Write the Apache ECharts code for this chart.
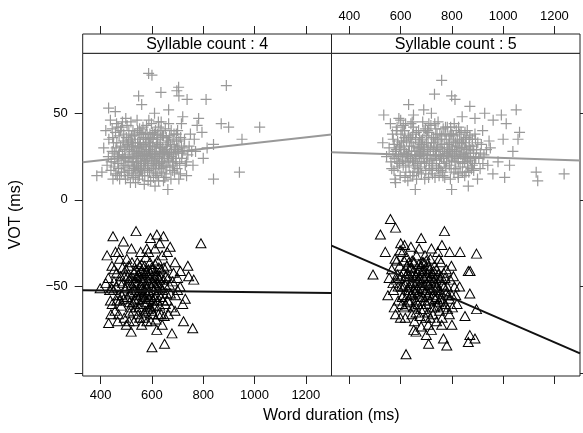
<!DOCTYPE html>
<html><head><meta charset="utf-8">
<script src="https://cdn.jsdelivr.net/npm/echarts@6/dist/echarts.min.js"></script>
<style>html,body{margin:0;padding:0;background:#fff}#c{width:583px;height:433px}</style>
</head><body><div id="c"></div>
<script>
const panelLabels = ['Syllable count : 4', 'Syllable count : 5'];
const xTitle = 'Word duration (ms)';
const yTitle = 'VOT (ms)';
const xTickValues = [400, 600, 800, 1000, 1200];
const yTickValues = [-100, -50, 0, 50];
const yLabelValues = [-50, 0, 50];
const xRange = [330, 1300];
const yRange = [-101.6, 84.6];

// Syllable count 4, positive VOT (+)
const syl4Voiceless = [
[587,73],[600,72],[704,65],[697,63],[890,66],[811,58],[737,58],[635,62],[548,60],[431,53],[457,51],[1020,42],[870,44],[899,42],[951,35],[941,16],[840,12],[840,32],[782,47],[776,43],[795,39],[662,6],[405,16],[385,14],[665,52],[705,60],[560,55],[610,50],[720,48],[750,38],[770,28],[760,20],[735,14],[800,24],[815,30],
[420,40],[432,35],[445,28],[455,22],[462,44],[470,18],[478,31],[485,26],[490,38],[497,12],
[503,20],[508,34],[512,29],[518,45],[522,15],[527,24],[531,37],[536,10],[540,27],[544,33],
[548,19],[552,41],[556,23],[560,30],[563,14],[567,36],[571,26],[575,21],[579,43],[583,17],
[587,28],[591,33],[595,11],[599,24],[603,39],[607,20],[611,30],[615,15],[619,35],[623,25],
[627,42],[631,18],[635,28],[640,22],[645,37],[650,13],[655,31],[660,26],[665,44],[670,19],
[676,29],[682,35],[688,16],[694,24],[700,40],[708,21],[715,31],[440,17],[450,33],[458,39],
[466,25],[474,12],[482,42],[488,20],[494,29],[500,36],[506,14],[514,25],[520,31],[526,40],
[532,19],[538,22],[542,46],[546,12],[550,35],[554,28],[558,17],[562,25],[566,32],[570,9],
[574,38],[578,29],[582,23],[586,35],[590,16],[594,27],[598,44],[602,31],[606,13],[610,26],
[614,40],[618,21],[622,33],[626,11],[630,27],[634,36],[638,16],[642,30],[648,24],[652,41],
[658,19],[664,34],[668,27],[674,12],[680,22],[686,38],[692,29],[698,18],[704,27],[712,36],
[430,25],[438,46],[448,12],[460,30],[472,37],[480,23],[492,16],[498,47],[510,40],[516,10],
[524,33],[534,28],[546,24],[557,39],[568,20],[580,33],[592,38],[604,22],[616,28],[628,32],
[644,19],[656,36],[672,32],[684,26],[696,34],[716,24],[725,30],[730,20],[740,26],[412,30],
[425,20],[452,19],[468,42],[496,24],[528,18],[544,40],[572,14],[588,46],[612,8],[636,45],
[441,22],[447,36],[453,27],[459,15],[463,33],[467,21],[473,28],[477,40],[481,16],[487,33],
[491,24],[495,19],[499,30],[503,43],[507,25],[511,17],[515,35],[519,22],[523,28],[527,13],
[529,31],[533,38],[537,16],[541,24],[545,30],[549,27],[551,14],[555,33],[559,21],[561,38],
[565,27],[569,18],[573,31],[577,24],[581,38],[585,20],[589,25],[593,31],[597,19],[601,27],
[605,35],[609,23],[613,18],[617,31],[621,38],[625,20],[629,24],[633,30],[637,22],[641,37],
[646,27],[651,20],[657,29],[663,23],[669,37],[675,25],[681,17],[687,31],[693,22],[699,30],
[705,34],[711,15],[719,27],[727,35],[735,22],[745,31],[755,28],[765,35],[445,41],[465,14],
[485,45],[505,32],[525,22],[545,18],[565,42],[585,11],[605,18],[625,45],[645,11],[665,24],
[685,20],[705,12],[535,33],[555,17],[575,35],[595,35],[615,24],[635,40],[655,15],[675,40],
[695,38],[715,44],[520,37],[540,20],[560,17],[580,26],[600,36],[620,14],[640,26],[660,33],
[470,26],[490,34],[510,22],[530,26],[550,31],[570,22],[590,29],[610,38],[630,21],[650,28]
];

// Syllable count 4, negative VOT (triangles)
const syl4Voiced = [
[448,-21],[538,-18],[619,-20],[645,-21],[791,-25],[671,-27],[594,-22],[489,-24],[425,-32],[470,-30],[711,-41],[743,-44],[763,-46],[398,-51],[730,-57],[723,-70],[759,-74],[678,-77],[600,-85],[649,-83],[431,-71],[519,-76],[619,-75],[630,-25],[580,-28],[700,-52],[740,-38],
[430,-45],[438,-58],[444,-38],[450,-52],[456,-64],[462,-42],[468,-55],[474,-34],[480,-61],[486,-48],
[492,-68],[498,-40],[504,-56],[510,-46],[516,-62],[522,-36],[528,-51],[534,-58],[540,-44],[546,-66],
[552,-38],[558,-54],[564,-47],[570,-60],[576,-33],[582,-50],[588,-57],[594,-42],[600,-64],[606,-48],
[612,-37],[618,-55],[624,-45],[630,-61],[636,-40],[642,-52],[648,-67],[654,-44],[660,-58],[668,-49],
[676,-62],[684,-42],[692,-55],[440,-66],[452,-47],[466,-70],[478,-44],[490,-57],[502,-34],[512,-65],
[520,-49],[530,-42],[538,-62],[548,-53],[556,-30],[562,-45],[566,-68],[572,-52],[578,-41],[586,-63],
[592,-36],[598,-50],[604,-58],[610,-44],[616,-69],[622,-35],[628,-49],[634,-56],[640,-32],[646,-46],
[652,-60],[658,-38],[664,-66],[672,-54],[680,-47],[690,-64],[700,-45],[545,-48],[555,-60],[568,-42],
[574,-56],[584,-46],[590,-53],[596,-62],[553,-44],[561,-51],[575,-64],[602,-40],[608,-52],[614,-61],
[620,-43],[525,-59],[535,-47],[515,-54],[505,-44],[495,-51],[485,-39],[475,-58],[460,-50],[445,-60],
[435,-52],[420,-48],[710,-50],[720,-60],[560,-72],[580,-70],[530,-70],[500,-72],[640,-72],[660,-30],
[470,-66],[543,-36],[587,-30],[636,-66],[690,-36],[458,-30],[612,-28],[520,-28],
[503,-50],[509,-38],[513,-59],[517,-45],[523,-53],[527,-64],[531,-48],[537,-40],[541,-55],[547,-43],
[551,-62],[557,-49],[559,-37],[563,-57],[567,-45],[571,-38],[575,-50],[579,-59],[583,-43],[589,-48],
[591,-62],[595,-55],[599,-39],[603,-47],[605,-66],[609,-56],[613,-41],[617,-50],[621,-58],[627,-39],
[631,-46],[637,-51],[643,-58],[647,-39],[651,-49],[657,-54],[663,-45],[547,-57],[557,-41],[569,-65],
[581,-54],[593,-45],[607,-61],[619,-48],[633,-44],[536,-52],[526,-45],[566,-55],[586,-40],[626,-52],
[473,-47],[483,-55],[493,-44],[463,-58],[453,-40],[443,-51],[511,-70],[552,-68],[596,-70],[625,-66]
];

// Syllable count 5, positive VOT (+)
const syl5Voiceless = [
[760,69],[732,61],[799,60],[812,58],[534,49],[631,55],[870,54],[928,50],[993,49],[1051,52],[1012,44],[890,47],[961,46],[1064,39],[1058,35],[1038,28],[1129,16],[1135,11],[1238,15],[1006,13],[657,6],[799,6],[864,8],[950,30],[980,22],[1000,35],[920,40],[1025,20],[960,15],[900,12],[690,52],[720,50],[600,46],[650,49],[840,48],[580,10],[545,25],[530,33],
[555,30],[562,22],[568,38],[574,17],[580,28],[586,42],[592,25],[598,14],[604,33],[610,20],
[616,36],[622,27],[628,11],[634,31],[640,44],[646,23],[652,16],[658,35],[664,28],[670,40],
[676,19],[682,32],[688,24],[694,12],[700,37],[706,29],[712,21],[718,43],[724,15],[730,33],
[736,26],[742,38],[748,18],[754,30],[760,24],[766,41],[772,13],[778,35],[784,27],[790,20],
[796,38],[802,29],[808,16],[814,33],[820,24],[826,42],[832,19],[838,30],[844,26],[850,14],
[856,36],[862,22],[868,31],[876,18],[884,27],[892,35],[560,44],[570,26],[578,12],[588,34],
[596,21],[606,40],[614,29],[620,16],[630,37],[638,24],[644,33],[650,42],[656,20],[662,12],
[668,30],[674,36],[680,22],[686,45],[692,31],[698,17],[704,26],[710,39],[716,30],[722,23],
[728,36],[734,13],[740,29],[746,45],[752,21],[758,35],[764,28],[770,32],[776,19],[782,42],
[788,25],[794,12],[800,31],[806,37],[812,22],[818,28],[824,15],[830,34],[836,39],[842,21],
[848,30],[854,25],[860,40],[866,16],[872,29],[880,35],[888,21],[896,29],[905,24],[915,32],
[565,18],[583,40],[601,26],[619,44],[637,14],[655,28],[673,25],[691,40],[709,13],[727,28],
[745,34],[763,16],[781,30],[799,23],[817,40],[835,26],[853,33],[871,24],[890,38],[575,32],
[593,47],[611,34],[629,22],[647,38],[665,18],[683,28],[701,33],[719,17],[737,41],[755,25],
[773,38],[791,33],[809,44],[827,30],[845,35],[863,27],[925,26],[940,20],[910,18],[945,34],
[571,35],[577,24],[583,29],[589,19],[595,31],[601,38],[607,23],[613,27],[617,13],[623,34],
[627,25],[633,19],[637,36],[643,28],[647,14],[651,31],[657,24],[661,39],[667,21],[671,33],
[677,27],[681,15],[685,35],[689,29],[693,21],[697,41],[703,24],[707,33],[711,18],[715,26],
[721,36],[725,20],[729,30],[733,44],[739,23],[743,31],[749,26],[753,38],[757,17],[761,32],
[767,24],[771,28],[775,42],[779,22],[785,32],[789,37],[793,27],[797,18],[803,25],[807,34],
[811,28],[815,18],[821,35],[825,22],[831,27],[837,33],[841,16],[847,24],[851,39],[857,29],
[861,19],[867,35],[873,23],[879,31],[885,17],[893,24],[901,33],[911,27],[921,21],[935,29],
[600,30],[620,22],[640,35],[660,26],[680,34],[700,22],[720,33],[740,19],[760,37],[780,26],
[800,38],[820,31],[840,33],[860,24],[880,20],[610,43],[630,28],[650,22],[670,16],[690,27],
[710,44],[730,24],[750,14],[770,21],[790,29],[810,26],[830,38],[850,22],[870,37],[585,22],
[615,40],[645,45],[675,30],[705,40],[735,35],[765,14],[795,42],[825,13],[855,16],[885,29]
];

// Syllable count 5, negative VOT (triangles)
const syl5Voiced = [
[560,-11],[580,-16],[521,-20],[771,-18],[761,-26],[791,-30],[832,-30],[896,-31],[492,-43],[864,-41],[870,-54],[896,-63],[851,-67],[870,-78],[890,-80],[864,-82],[767,-80],[780,-84],[709,-83],[651,-75],[599,-68],[621,-89],[871,-41],[540,-30],[600,-25],[680,-22],[720,-28],[830,-50],[820,-60],
[565,-40],[572,-52],[578,-34],[584,-46],[590,-58],[596,-38],[602,-50],[608,-30],[614,-62],[620,-44],
[626,-55],[632,-36],[638,-48],[644,-66],[650,-41],[656,-53],[662,-32],[668,-60],[674,-45],[680,-38],
[686,-56],[692,-49],[698,-68],[704,-42],[710,-54],[716,-34],[722,-62],[728,-47],[734,-57],[740,-40],
[746,-52],[752,-64],[758,-44],[764,-58],[770,-50],[778,-40],[786,-55],[794,-46],[802,-62],[810,-50],
[575,-62],[588,-43],[598,-29],[606,-56],[612,-41],[618,-68],[624,-33],[630,-52],[636,-59],[642,-39],
[648,-47],[654,-70],[660,-44],[666,-51],[672,-28],[678,-63],[684,-43],[690,-36],[696,-58],[702,-48],
[708,-72],[714,-40],[720,-51],[726,-66],[732,-38],[738,-48],[744,-61],[750,-34],[756,-53],[762,-68],
[768,-42],[774,-60],[782,-50],[790,-66],[798,-38],[806,-44],[815,-55],[640,-55],[660,-58],[680,-50],
[700,-60],[720,-44],[740,-56],[690,-45],[670,-40],[650,-48],[630,-44],[610,-50],[595,-45],[660,-65],
[700,-35],[720,-75],[680,-73],[740,-70],[660,-76],[700,-78],[585,-35],[615,-26],[640,-27],[745,-30],
[760,-72],[800,-72],[570,-48],[555,-45],[550,-55],[580,-66],[700,-52],[712,-46],[676,-56],[650,-62],
[603,-44],[609,-55],[613,-35],[617,-49],[623,-61],[627,-42],[633,-50],[637,-39],[643,-54],[647,-44],
[653,-36],[657,-61],[663,-47],[667,-54],[671,-37],[677,-48],[681,-60],[683,-41],[687,-51],[693,-40],
[697,-53],[701,-44],[705,-65],[709,-38],[713,-58],[717,-47],[723,-42],[727,-55],[731,-62],[735,-45],
[741,-50],[747,-43],[753,-57],[757,-36],[763,-49],[767,-62],[773,-45],[777,-54],[783,-63],[791,-57],
[629,-58],[649,-52],[669,-46],[689,-63],[709,-49],[729,-41],[749,-59],[685,-36],[665,-42],[705,-55],
[645,-35],[695,-32],[735,-52],[755,-46],[675,-67],[715,-68],[625,-38],[605,-60],[590,-50],[800,-55]
];

// Regression lines (value at x-range ends)
const syl4VoicelessFit = [[330, 21.7], [1300, 37.8]];
const syl4VoicedFit = [[330, -52.1], [1300, -53.7]];
const syl5VoicelessFit = [[330, 27.5], [1300, 22.7]];
const syl5VoicedFit = [[330, -26.4], [1300, -88.5]];

const FONT = '"Liberation Sans", Arial, Helvetica, sans-serif';
const BORDER = '#222';
const GRAY = '#999999';
const G = [
  {left: 82.7, top: 53.3, width: 248.8, height: 322.7},
  {left: 331.5, top: 53.3, width: 248.5, height: 322.7}
];
const STRIP_H = 19.3;
const crossSym = 'path://M0,5L10,5M5,0L5,10';
const fmt = v => v < 0 ? '\u2212' + Math.abs(v) : String(v);

function xAxisDef(gi, pos, labels) {
  return {
    type: 'value', gridIndex: gi, position: pos, min: xRange[0], max: xRange[1],
    offset: pos === 'top' ? STRIP_H : 0,
    axisLine: {show: false, onZero: false},
    splitLine: {show: false},
    axisTick: {show: true, length: 8, customValues: xTickValues, lineStyle: {color: BORDER, width: 1}},
    axisLabel: {show: labels, customValues: xTickValues, margin: pos === 'top' ? 11 : 13,
      fontFamily: FONT, fontSize: 13, color: '#000', formatter: fmt}
  };
}
function yAxisDef(gi, pos, labels) {
  return {
    type: 'value', gridIndex: gi, position: pos, min: yRange[0], max: yRange[1],
    axisLine: {show: false, onZero: false},
    splitLine: {show: false},
    axisTick: {show: true, length: 8, customValues: yTickValues, lineStyle: {color: BORDER, width: 1}},
    axisLabel: {show: labels, customValues: yLabelValues, margin: 15,
      fontFamily: FONT, fontSize: 13, color: '#000', formatter: fmt}
  };
}
// axis index pairs per panel: [xAxisIndex, yAxisIndex]
const AX = [[0, 0], [2, 1]];
function scatterCross(data, p) {
  return {type: 'scatter', xAxisIndex: AX[p][0], yAxisIndex: AX[p][1], data: data, symbol: crossSym, symbolSize: 11,
    itemStyle: {color: 'rgba(0,0,0,0)', borderColor: GRAY, borderWidth: 1.2, opacity: 1}, z: 2, silent: true};
}
function scatterTri(data, p) {
  return {type: 'scatter', xAxisIndex: AX[p][0], yAxisIndex: AX[p][1], data: data, symbol: 'triangle', symbolSize: [10, 9],
    itemStyle: {color: 'rgba(0,0,0,0)', borderColor: '#000', borderWidth: 1, opacity: 1}, z: 2, silent: true};
}
function fitLine(data, p, color) {
  return {type: 'line', xAxisIndex: AX[p][0], yAxisIndex: AX[p][1], data: data, showSymbol: false, symbol: 'none',
    lineStyle: {color: color, width: 2}, z: 3, silent: true, clip: true};
}

const graphic = [];
G.forEach((g, i) => {
  graphic.push({type: 'rect', shape: {x: g.left, y: g.top - STRIP_H, width: g.width, height: STRIP_H},
    style: {fill: '#fff', stroke: BORDER, lineWidth: 1}, z: 10});
  graphic.push({type: 'text', x: g.left + g.width / 2, y: g.top - STRIP_H / 2 + 0.5, z: 11,
    style: {text: panelLabels[i], font: '16px ' + FONT, fill: '#000',
      align: 'center', verticalAlign: 'middle', textAlign: 'center', textVerticalAlign: 'middle'}});
});
graphic.push({type: 'text', x: (G[0].left + G[1].left + G[1].width) / 2, y: 416, z: 11,
  style: {text: xTitle, font: '16px ' + FONT, fill: '#000',
    align: 'center', verticalAlign: 'middle', textAlign: 'center', textVerticalAlign: 'middle'}});
graphic.push({type: 'text', x: 15.7, y: G[0].top + G[0].height / 2, rotation: Math.PI / 2, z: 11,
  style: {text: yTitle, font: '16px ' + FONT, fill: '#000',
    align: 'center', verticalAlign: 'middle', textAlign: 'center', textVerticalAlign: 'middle'}});

const chart = echarts.init(document.getElementById('c'), null, {renderer: 'canvas'});
chart.setOption({
  animation: false,
  backgroundColor: '#fff',
  grid: G.map(g => Object.assign({show: true, borderColor: BORDER, borderWidth: 1,
    backgroundColor: 'rgba(0,0,0,0)', containLabel: false, outerBoundsMode: 'none'}, g)),
  xAxis: [xAxisDef(0, 'bottom', true), xAxisDef(0, 'top', false), xAxisDef(1, 'bottom', false), xAxisDef(1, 'top', true)],
  yAxis: [yAxisDef(0, 'left', true), yAxisDef(1, 'right', false)],
  series: [
    scatterCross(syl4Voiceless, 0), scatterTri(syl4Voiced, 0),
    scatterCross(syl5Voiceless, 1), scatterTri(syl5Voiced, 1),
    fitLine(syl4VoicelessFit, 0, GRAY), fitLine(syl4VoicedFit, 0, '#111'),
    fitLine(syl5VoicelessFit, 1, GRAY), fitLine(syl5VoicedFit, 1, '#111')
  ],
  graphic: graphic
});
</script></body></html>
